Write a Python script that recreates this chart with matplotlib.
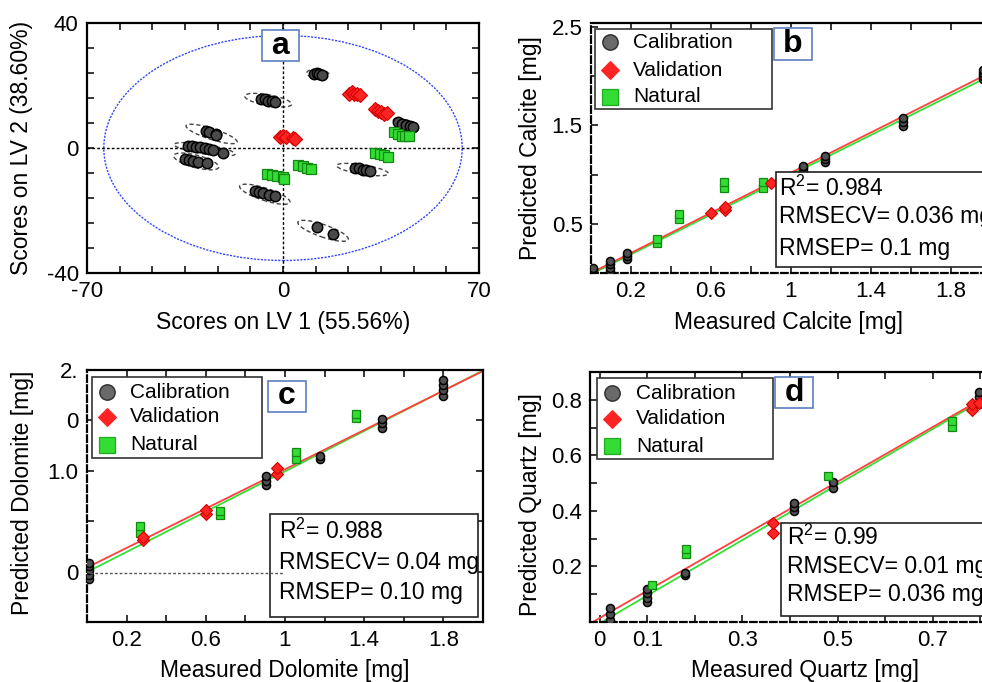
import numpy as np
import matplotlib.pyplot as plt
from matplotlib.patches import Ellipse, Rectangle
from matplotlib.lines import Line2D

plt.rcParams['font.family'] = ['Liberation Sans', 'DejaVu Sans']
plt.rcParams['mathtext.fontset'] = 'custom'
plt.rcParams['mathtext.rm'] = 'Liberation Sans'
plt.rcParams['mathtext.it'] = 'Liberation Sans'
plt.rcParams['axes.unicode_minus'] = False

W, H = 982, 682

# ---------------- panel a : PLS scores ----------------
cal_a_x = [11, 12, 13, 14,
           -7.7, -6.5, -5.3, -4.1, -2.9,
           -27.5, -26.5, -24, -23.8,
           -34, -32.5, -31, -29.5, -28, -26.5, -25, -21.5,
           -35, -33.5, -32, -30.5, -27,
           41.2, 42.5, 44, 45.5, 46.6,
           25.7, 27, 28.5, 29.5, 31,
           -10, -8.5, -7, -5, -3,
           12, 18]
cal_a_y = [23.8, 24, 23.6, 23.5,
           15.8, 15.6, 15.2, 15, 14.8,
           5.5, 5.0, 4.5, 4.2,
           0.7, 0.5, 0.3, 0.2, 0, -0.2, -0.5, -1.6,
           -3.6, -3.8, -4.1, -4.4, -4.9,
           8.2, 7.8, 7.3, 7.0, 6.8,
           -6.3, -6.5, -6.9, -7.1, -7.3,
           -13.9, -14.2, -14.5, -15, -15.5,
           -25.2, -27.6]
val_a_x = [-1, 0, 1, 3.5, 4.2,
           23.5, 24.5, 25.5, 26.5, 27.5,
           33, 34, 35, 36, 37]
val_a_y = [3.6, 3.8, 3.4, 3.2, 2.9,
           17.2, 17.8, 17.4, 17.2, 17.0,
           12.6, 12.0, 11.4, 11.0, 11.3]
nat_a_x = [39.5, 41, 42.5, 43.5, 45,
           33, 34.5, 36, 37.5,
           5.5, 7, 8.5, 10,
           -5.8, -4, -2, 0, 0.5]
nat_a_y = [5.0, 4.6, 4.0, 3.7, 3.8,
           -1.5, -1.9, -2.3, -2.8,
           -5.4, -5.9, -6.4, -6.6,
           -8.2, -8.6, -8.9, -9.2, -9.8]
# group ellipses around calibration clusters
ell_cx = [12.5, -5.3, -25.5, -28, -31, 43.9, 28.4, -6.5, 14.3]
ell_cy = [23.7, 15.3, 4.5, -0.4, -4.3, 7.5, -6.9, -14.8, -26.5]
ell_w = [8, 17, 19, 22, 16.5, 9.4, 18.7, 18.7, 18.8]
ell_h = [3, 3.5, 3.5, 3, 4, 3, 3, 4, 4]
ell_ang = [-5, -9, -16, -8, -13, -18, -8, -16, -17]
conf_w, conf_h = 128, 72

# ---------------- panel b : calcite ----------------
cal_b_x = [0.01, 0.01, 0.01, 0.01, 0.095, 0.095, 0.095, 0.095, 0.18, 0.18, 0.18,
           1.06, 1.06, 1.06, 1.17, 1.17, 1.17, 1.56, 1.56, 1.56, 1.96, 1.96, 1.96, 1.96]
cal_b_y = [0.0, 0.02, 0.04, 0.055, 0.02, 0.05, 0.09, 0.12, 0.14, 0.17, 0.2,
           1.04, 1.07, 1.09, 1.13, 1.16, 1.19, 1.49, 1.53, 1.57, 1.97, 2.0, 2.03, 2.06]
val_b_x = [0.6, 0.67, 0.67, 0.9]
val_b_y = [0.61, 0.64, 0.67, 0.91]
nat_b_x = [0.33, 0.33, 0.44, 0.44, 0.665, 0.665, 0.86, 0.86]
nat_b_y = [0.30, 0.35, 0.55, 0.60, 0.86, 0.92, 0.86, 0.92]
fit_b_red = (1.02, 0.0)
fit_b_green = (1.01, -0.012)

# ---------------- panel c : dolomite ----------------
cal_c_x = [0.01, 0.01, 0.01, 0.01, 0.01, 0.905, 0.905, 0.905, 1.177, 1.177,
           1.488, 1.488, 1.488, 1.796, 1.796, 1.796, 1.796]
cal_c_y = [-0.07, -0.03, 0.02, 0.06, 0.09, 0.86, 0.9, 0.95, 1.12, 1.15,
           1.42, 1.47, 1.51, 1.74, 1.8, 1.85, 1.9]
val_c_x = [0.284, 0.284, 0.6, 0.6, 0.958, 0.958]
val_c_y = [0.31, 0.34, 0.57, 0.61, 0.97, 1.03]
nat_c_x = [0.268, 0.268, 0.672, 0.672, 1.056, 1.056, 1.357, 1.357]
nat_c_y = [0.38, 0.45, 0.56, 0.6, 1.12, 1.19, 1.52, 1.56]
fit_c_red = (0.975, 0.04)
fit_c_green = (1.0, -0.005)

# ---------------- panel d : quartz ----------------
cal_d_x = [0.022, 0.022, 0.022, 0.1, 0.1, 0.1, 0.1, 0.18, 0.18,
           0.408, 0.408, 0.408, 0.49, 0.49, 0.796, 0.796, 0.796]
cal_d_y = [0.008, 0.03, 0.052, 0.072, 0.088, 0.105, 0.118, 0.168, 0.178,
           0.398, 0.415, 0.43, 0.482, 0.505, 0.785, 0.81, 0.828]
val_d_x = [0.364, 0.364, 0.783, 0.783, 0.797]
val_d_y = [0.32, 0.355, 0.765, 0.785, 0.79]
nat_d_x = [0.11, 0.182, 0.182, 0.48, 0.74, 0.74]
nat_d_y = [0.132, 0.246, 0.262, 0.524, 0.702, 0.724]
fit_d_red = (0.983, 0.014)
fit_d_green = (1.0, -0.005)

legend_labels = ["Calibration", "Validation", "Natural"]
stats_b = ["R$^2$= 0.984", "RMSECV= 0.036 mg", "RMSEP= 0.1 mg"]
stats_c = ["R$^2$= 0.988", "RMSECV= 0.04 mg", "RMSEP= 0.10 mg"]
stats_d = ["R$^2$= 0.99", "RMSECV= 0.01 mg", "RMSEP= 0.036 mg"]

CAL = dict(marker='o', ls='none', ms=5.8, mfc='#505050', mec='black', mew=1.1)
VAL = dict(marker='D', ls='none', ms=5.8, mfc='#ff2424', mec='#d40000', mew=0.8)
NAT = dict(marker='s', ls='none', ms=6.2, mfc='#33dd33', mec='#118811', mew=0.9)


def rect(l, t, r, b):
    return [l / W, 1 - b / H, (r - l) / W, (b - t) / H]


def fx(x):
    return x / W


def fy(y):
    return 1 - y / H


def style_axes(ax):
    ax.tick_params(which='both', direction='in', top=True, right=True,
                   labelsize=16, pad=6, width=1.1, length=5)
    for s in ax.spines.values():
        s.set_linewidth(1.6)


def panel_tag(fig, letter, l, t, r, b):
    fig.add_artist(Rectangle((fx(l), fy(b)), (r - l) / W, (b - t) / H,
                             transform=fig.transFigure, fc='white',
                             ec='#5b7fbf', lw=1.2, zorder=5))
    fig.text(fx((l + r) / 2), fy((t + b) / 2), letter, ha='center', va='center',
             fontsize=23, fontweight='bold', zorder=6)


def legend_box(fig, l, t, r, b, mx, tx, rows):
    fig.add_artist(Rectangle((fx(l), fy(b)), (r - l) / W, (b - t) / H,
                             transform=fig.transFigure, fc='white',
                             ec='#333333', lw=1.2, zorder=5))
    styles = [dict(CAL, ms=11, mfc='#6a6a6a', mec='#333333'),
              dict(VAL, ms=9.5, mec='#ff2424'),
              dict(NAT, ms=11, mfc='#33dd33', mec='#22aa22')]
    for st, lab, ry in zip(styles, legend_labels, rows):
        fig.add_artist(Line2D([fx(mx)], [fy(ry)], transform=fig.transFigure,
                              zorder=6, **st))
        fig.text(fx(tx), fy(ry), lab, ha='left', va='center', fontsize=15, zorder=6)


def stats_box(fig, l, t, r, b, tx, rows, lines):
    fig.add_artist(Rectangle((fx(l), fy(b)), (r - l) / W, (b - t) / H,
                             transform=fig.transFigure, fc='white',
                             ec='#222222', lw=1.2, zorder=4))
    for txt, ry in zip(lines, rows):
        fig.text(fx(tx), fy(ry), txt, ha='left', va='center', fontsize=16.5, zorder=6)


def parity(ax, cx, cy, vx, vy, nx, ny, red, green, x0, x1):
    xs = np.array([x0, x1])
    ax.plot(xs, green[0] * xs + green[1], color='#33e033', lw=1.3, zorder=2)
    ax.plot(xs, red[0] * xs + red[1], color='#ff4040', lw=1.3, zorder=2)
    ax.plot(cx, cy, zorder=3, **CAL)
    ax.plot(nx, ny, zorder=3, **NAT)
    ax.plot(vx, vy, zorder=3, **VAL)


fig = plt.figure(figsize=(W / 100, H / 100), dpi=100)

# ---- a
ax = fig.add_axes(rect(87, 23, 479, 273))
ax.set_xlim(-70, 70)
ax.set_ylim(-40, 40)
ax.add_patch(Ellipse((0, 0), conf_w, conf_h, fill=False, ec='#3344ff',
                     ls=(0, (1.5, 1)), lw=1.0))
ax.axhline(0, color='black', ls=(0, (2, 1.5)), lw=1.0)
ax.axvline(0, color='black', ls=(0, (2, 1.5)), lw=1.0)
for cx_, cy_, w_, h_, a_ in zip(ell_cx, ell_cy, ell_w, ell_h, ell_ang):
    ax.add_patch(Ellipse((cx_, cy_), w_, h_, angle=a_, fill=False,
                         ec='#444444', ls=(0, (3, 2)), lw=1.0))
ax.plot(cal_a_x, cal_a_y, **dict(CAL, ms=7.5, mfc='#4a4a4a'))
ax.plot(val_a_x, val_a_y, **dict(VAL, ms=7))
ax.plot(nat_a_x, nat_a_y, **dict(NAT, ms=7))
ax.set_xticks([-70, 0, 70])
ax.set_xticks(np.linspace(-70, 70, 13), minor=True)
ax.set_yticks([-40, 0, 40])
ax.set_yticks(np.linspace(-40, 40, 11), minor=True)
style_axes(ax)
ax.set_xlabel("Scores on LV 1 (55.56%)", fontsize=16.5, va='center')
ax.xaxis.set_label_coords(fx(283), fy(323), transform=fig.transFigure)
ax.set_ylabel("Scores on LV 2 (38.60%)", fontsize=16.5, va='center')
ax.yaxis.set_label_coords(fx(22), fy(148), transform=fig.transFigure)
panel_tag(fig, "a", 262, 30, 299, 61)

# ---- b
ax = fig.add_axes(rect(591, 23, 1001, 273))
ax.set_xlim(0, 2.05)
ax.set_ylim(0, 2.54)
parity(ax, cal_b_x, cal_b_y, val_b_x, val_b_y, nat_b_x, nat_b_y,
       fit_b_red, fit_b_green, 0.0, 1.96)
ax.set_xticks([0.2, 0.6, 1.0, 1.4, 1.8])
ax.set_xticklabels(["0.2", "0.6", "1", "1.4", "1.8"])
ax.set_xticks([0.4, 0.8, 1.2, 1.6, 2.0], minor=True)
ax.set_yticks([0.5, 1.5, 2.5])
ax.set_yticks([1.0, 2.0], minor=True)
style_axes(ax)
ax.spines['bottom'].set_linestyle((0, (3, 1.5)))
ax.spines['left'].set_linestyle((0, (3, 1.5)))
ax.set_xlabel("Measured Calcite [mg]", fontsize=16.5, va='center')
ax.xaxis.set_label_coords(fx(788), fy(323), transform=fig.transFigure)
ax.set_ylabel("Predicted Calcite [mg]", fontsize=16.5, va='center')
ax.yaxis.set_label_coords(fx(530), fy(148), transform=fig.transFigure)
legend_box(fig, 595, 29, 772, 109, 610, 633, [42, 70, 97])
panel_tag(fig, "b", 774, 28, 812, 60)
stats_box(fig, 776, 172, 990, 267, 779, [188, 217, 248], stats_b)

# ---- c
ax = fig.add_axes(rect(87, 370, 483, 622))
ax.set_xlim(0, 2.0)
ax.set_ylim(-0.5, 2.0)
parity(ax, cal_c_x, cal_c_y, val_c_x, val_c_y, nat_c_x, nat_c_y,
       fit_c_red, fit_c_green, 0.0, 2.0)
ax.set_xticks([0.2, 0.6, 1.0, 1.4, 1.8])
ax.set_xticklabels(["0.2", "0.6", "1", "1.4", "1.8"])
ax.set_xticks([0.4, 0.8, 1.2, 1.6], minor=True)
ax.set_yticks([0.0, 1.0, 1.5, 2.0])
ax.set_yticklabels(["0", "1.0", "0", "2."])
ax.set_yticks([0.5], minor=True)
style_axes(ax)
ax.spines['left'].set_linestyle((0, (3, 1.5)))
ax.set_xlabel("Measured Dolomite [mg]", fontsize=16.5, va='center')
ax.xaxis.set_label_coords(fx(285), fy(670), transform=fig.transFigure)
ax.set_ylabel("Predicted Dolomite [mg]", fontsize=16.5, va='center')
ax.yaxis.set_label_coords(fx(23), fy(493), transform=fig.transFigure)
legend_box(fig, 92, 377, 262, 458, 107, 130, [392, 417, 445])
panel_tag(fig, "c", 268, 381, 306, 412)
stats_box(fig, 270, 514, 478, 617, 279, [531, 563, 593], stats_c)
# short zero line, drawn above the stats box
fig.add_artist(Line2D([fx(90), fx(283)], [fy(573), fy(573)], transform=fig.transFigure,
                      color='#555555', ls=(0, (2, 1.5)), lw=1.0, zorder=7))

# ---- d
ax = fig.add_axes(rect(590, 372, 990, 622))
ax.set_xlim(-0.02, 0.82)
ax.set_ylim(0, 0.9)
parity(ax, cal_d_x, cal_d_y, val_d_x, val_d_y, nat_d_x, nat_d_y,
       fit_d_red, fit_d_green, -0.02, 0.8)
ax.set_xticks([0.0, 0.1, 0.3, 0.5, 0.7])
ax.set_xticklabels(["0", "0.1", "0.3", "0.5", "0.7"])
ax.set_xticks([0.2, 0.4, 0.6, 0.8], minor=True)
ax.set_yticks([0.2, 0.4, 0.6, 0.8])
ax.set_yticks([0.1, 0.3, 0.5, 0.7], minor=True)
style_axes(ax)
ax.spines['bottom'].set_linestyle((0, (3, 1.5)))
ax.set_xlabel("Measured Quartz [mg]", fontsize=16.5, va='center')
ax.xaxis.set_label_coords(fx(805), fy(670), transform=fig.transFigure)
ax.set_ylabel("Predicted Quartz [mg]", fontsize=16.5, va='center')
ax.yaxis.set_label_coords(fx(530), fy(505), transform=fig.transFigure)
legend_box(fig, 597, 378, 773, 459, 612, 636, [393, 419, 446])
panel_tag(fig, "d", 775, 377, 813, 408)
stats_box(fig, 781, 523, 990, 616, 787, [537, 566, 595], stats_d)

fig.savefig("out.png", dpi=100)
